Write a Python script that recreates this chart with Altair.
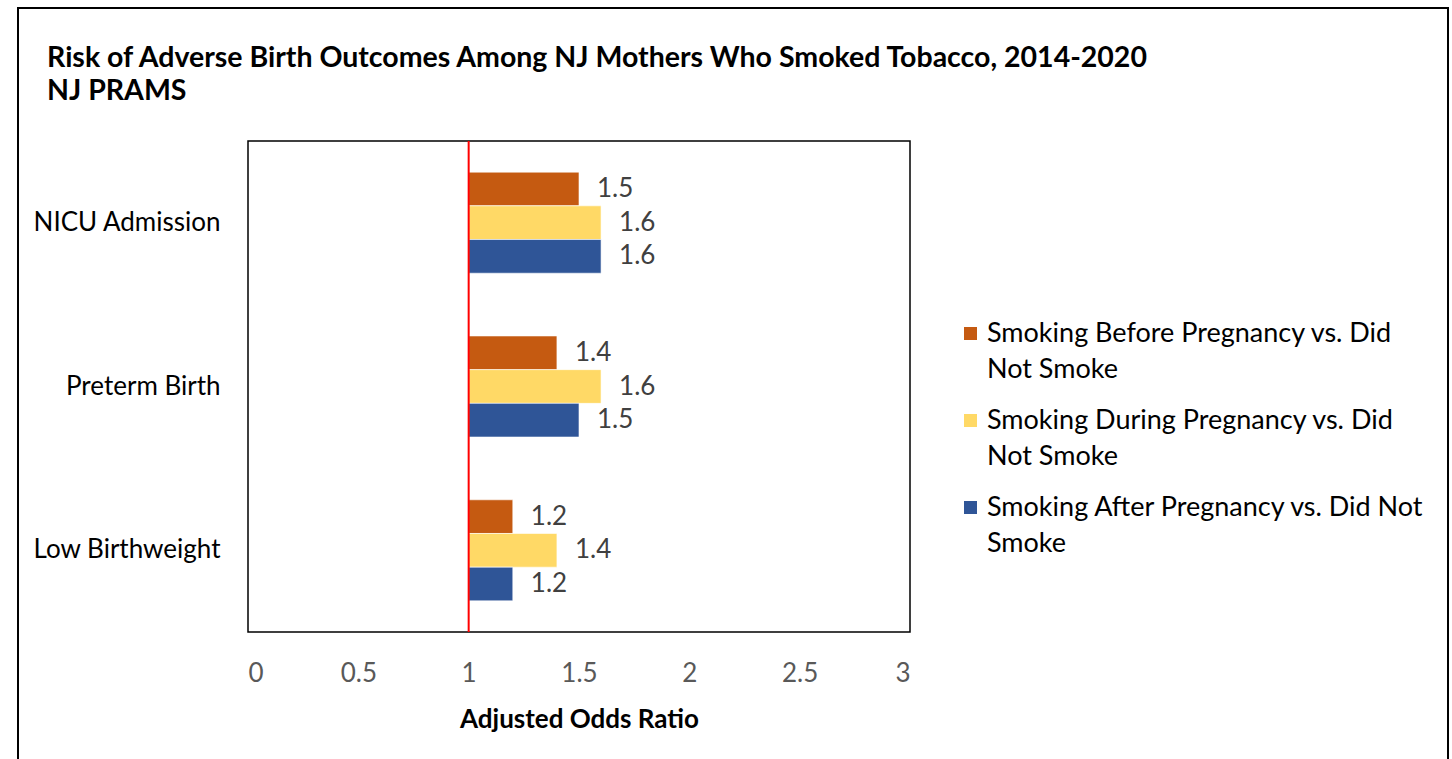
import json
import altair as alt
import pandas as pd

outcomes = ["NICU Admission", "Preterm Birth", "Low Birthweight"]
series = [
    "Smoking Before Pregnancy vs. Did Not Smoke",
    "Smoking During Pregnancy vs. Did Not Smoke",
    "Smoking After Pregnancy vs. Did Not Smoke",
]
before_vals = [1.5, 1.4, 1.2]
during_vals = [1.6, 1.6, 1.4]
after_vals = [1.6, 1.5, 1.2]
x_ticks = [0, 0.5, 1, 1.5, 2, 2.5, 3]
colors = ["#C55A11", "#FFD966", "#2F5597"]
legend_lines = {
    series[0]: ["Smoking Before Pregnancy vs. Did", "Not Smoke"],
    series[1]: ["Smoking During Pregnancy vs. Did", "Not Smoke"],
    series[2]: ["Smoking After Pregnancy vs. Did Not", "Smoke"],
}
title_lines = ["Risk of Adverse Birth Outcomes Among NJ Mothers Who Smoked Tobacco, 2014-2020", "NJ PRAMS"]

rows = []
for s, vals in zip(series, [before_vals, during_vals, after_vals]):
    for o, v in zip(outcomes, vals):
        rows.append({"outcome": o, "series": s, "value": v})
df = pd.DataFrame(rows)

label_expr = " : ".join(
    f"datum.label == {json.dumps(k)} ? {json.dumps(v)}" for k, v in legend_lines.items()
) + " : datum.label"

FONT = "Lato"
FS = 26
W, H = 662, 491
PL, PT = 248, 141

y_enc = alt.Y(
    "outcome:N",
    sort=outcomes,
    scale=alt.Scale(paddingInner=0.383, paddingOuter=0.19),
    axis=alt.Axis(title=None, ticks=False, domain=False, labelFontSize=FS,
                  labelColor="#000000", labelPadding=28, labelFont=FONT, labelLimit=400),
)
yoff = alt.YOffset("series:N", sort=series, scale=alt.Scale(paddingInner=0))

base = alt.Chart(df)

bars = base.mark_bar(stroke="#ffffff", strokeWidth=0.6).encode(
    x=alt.X(
        "value:Q",
        scale=alt.Scale(domain=[0, 3], nice=False, zero=False),
        axis=alt.Axis(values=x_ticks, labelExpr="datum.value", title="Adjusted Odds Ratio",
                      titleFontSize=FS, titleFont=FONT, titleFontWeight="bold",
                      titleColor="#000000", titlePadding=20,
                      labelFontSize=FS, labelColor="#595959", labelFont=FONT,
                      labelPadding=28, ticks=False, domain=False, grid=False),
    ),
    x2=alt.datum(1),
    y=y_enc,
    yOffset=yoff,
    color=alt.Color(
        "series:N",
        sort=series,
        scale=alt.Scale(domain=series, range=colors),
        legend=alt.Legend(
            title=None, orient="none", legendX=709, legendY=179,
            symbolType="square", symbolSize=169, symbolStrokeWidth=0,
            labelFontSize=27, labelFont=FONT, labelColor="#000000",
            labelExpr=label_expr, labelLimit=0, rowPadding=23,
            labelOffset=3, labelBaseline="middle",
            padding=0,
        ),
    ),
)

labels = base.mark_text(align="left", baseline="middle", dx=18, fontSize=FS,
                        font=FONT, color="#404040").encode(
    x="value:Q",
    y=alt.Y("outcome:N", sort=outcomes),
    yOffset=yoff,
    text=alt.Text("value:Q", format=".1f"),
)

ref = alt.Chart(alt.Data(values=[{"v": 1}])).mark_rule(color="#FF0000", strokeWidth=2).encode(
    x="v:Q"
)

frame = alt.Chart(alt.Data(values=[{"a": 0}])).mark_rect(
    fill=None, stroke="#000000", strokeWidth=2, clip=False
).encode(
    x=alt.value(18 - PL), x2=alt.value(1448 - PL),
    y=alt.value(8 - PT), y2=alt.value(800 - PT),
)

title = alt.Chart(alt.Data(values=[{"a": 0}])).mark_text(
    text=title_lines, align="left", baseline="alphabetic", lineHeight=33,
    fontSize=28.5, font=FONT, fontWeight="bold", color="#000000",
).encode(x=alt.value(47 - PL), y=alt.value(67 - PT))

chart = alt.layer(bars, labels, ref, frame, title).properties(
    width=W, height=H,
    padding={"left": PL, "top": PT, "right": 1452 - PL - W, "bottom": 759 - PT - H},
    autosize=alt.AutoSizeParams(type="none"),
).configure(
    background="#ffffff",
    view=alt.ViewConfig(stroke="#000000", strokeWidth=1.5),
    style={"guide-label": {"lineHeight": 36}},
)

chart.save("out.html", embed_options={"renderer": "svg", "actions": False})
